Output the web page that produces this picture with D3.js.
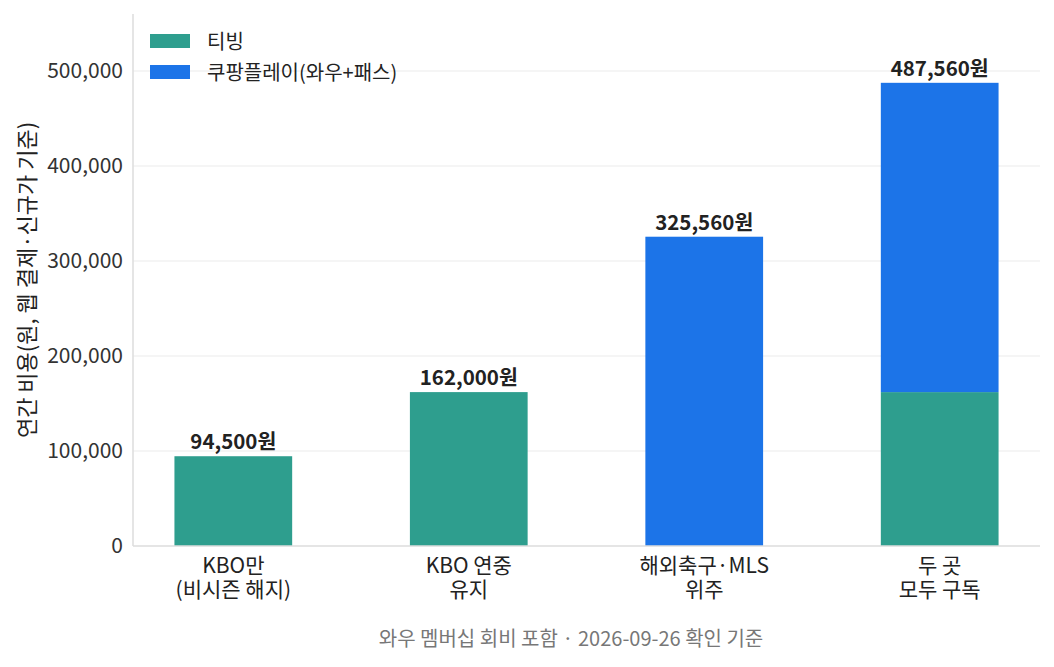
<!DOCTYPE html>
<html>
<head>
<meta charset="utf-8">
<script src="https://cdn.jsdelivr.net/npm/d3@7"></script>
<style>
  body { margin: 0; background: #fff; }
  text { font-family: "Noto Sans CJK KR", "Noto Sans", sans-serif; }
</style>
</head>
<body>
<script>
// data
const categories = ["KBO만\n(비시즌 해지)", "KBO 연중\n유지", "해외축구·MLS\n위주", "두 곳\n모두 구독"];
const tving = [94500, 162000, 0, 162000];
const coupang = [0, 0, 325560, 325560];
const seriesNames = ["티빙", "쿠팡플레이(와우+패스)"];
const seriesColors = ["#2e9e8e", "#1c74e8"];
const yTicks = [0, 100000, 200000, 300000, 400000, 500000];
const yLabel = "연간 비용(원, 웹 결제·신규가 기준)";
const caption = "와우 멤버십 회비 포함 · 2026-09-26 확인 기준";

const W = 1054, H = 667;
const margin = {top: 14, right: 14, bottom: 121, left: 133};
const width = W - margin.left - margin.right,
      height = H - margin.top - margin.bottom;

const svg = d3.select("body").append("svg")
    .attr("width", W).attr("height", H);
const g = svg.append("g")
    .attr("transform", "translate(" + margin.left + "," + margin.top + ")");

const x = d3.scaleBand().domain(categories).range([0, width])
    .paddingInner(0.5).paddingOuter(0.176);
const y = d3.scaleLinear().domain([0, 560000]).range([height, 0]);

// grid
g.selectAll("line.grid").data(yTicks.filter(d => d > 0)).enter()
    .append("line")
    .attr("x1", 0).attr("x2", width)
    .attr("y1", d => y(d)).attr("y2", d => y(d))
    .attr("stroke", "#ebebeb").attr("stroke-width", 1.2);

// stacks
const rows = categories.map((c, i) => ({cat: c, s0: tving[i], s1: coupang[i]}));
const stack = d3.stack().keys(["s0", "s1"])(rows);
g.selectAll("g.layer").data(stack).enter()
    .append("g")
    .attr("fill", (d, i) => seriesColors[i])
    .selectAll("rect").data(d => d.filter(p => p[1] > p[0])).enter()
    .append("rect")
    .attr("x", d => x(d.data.cat))
    .attr("width", x.bandwidth())
    .attr("y", d => y(d[1]))
    .attr("height", d => y(d[0]) - y(d[1]));

// totals
const fmt = d3.format(",");
g.selectAll("text.total").data(rows).enter()
    .append("text")
    .attr("x", d => x(d.cat) + x.bandwidth() / 2)
    .attr("y", d => y(d.s0 + d.s1) - 7)
    .attr("text-anchor", "middle")
    .attr("font-size", 20.5).attr("font-weight", "bold")
    .attr("fill", "#222")
    .text(d => fmt(d.s0 + d.s1) + "원");

// axes
const yAxis = d3.axisLeft(y).tickValues(yTicks).tickFormat(fmt).tickSize(0).tickPadding(10);
const ya = g.append("g").call(yAxis);
ya.select(".domain").remove();
ya.selectAll(".tick text").attr("font-size", 21).attr("fill", "#333")
    .style("font-family", '"Noto Sans CJK KR", sans-serif');

const xAxis = d3.axisBottom(x).tickSize(0).tickFormat("");
const xa = g.append("g").attr("transform", "translate(0," + height + ")").call(xAxis);
xa.select(".domain").remove();
xa.selectAll(".tick").each(function(d) {
    const tick = d3.select(this);
    d.split("\n").forEach((line, i) => {
        tick.append("text")
            .attr("text-anchor", "middle").attr("font-size", 21).attr("fill", "#222")
            .attr("x", 0).attr("y", 27 + i * 24).text(line);
    });
});

// spines
g.append("line").attr("x1", 0).attr("x2", 0).attr("y1", 0).attr("y2", height)
    .attr("stroke", "#ddd").attr("stroke-width", 1.5);
g.append("line").attr("x1", 0).attr("x2", width).attr("y1", height).attr("y2", height)
    .attr("stroke", "#ddd").attr("stroke-width", 1.5);

// y label
svg.append("text")
    .attr("transform", "translate(35," + (margin.top + height / 2) + ") rotate(-90)")
    .attr("text-anchor", "middle")
    .attr("font-size", 22).attr("fill", "#222")
    .text(yLabel);

// legend
const legend = g.append("g").attr("transform", "translate(17,20)");
seriesNames.forEach((name, i) => {
    const row = legend.append("g").attr("transform", "translate(0," + i * 31 + ")");
    row.append("rect").attr("width", 40).attr("height", 14).attr("fill", seriesColors[i]);
    row.append("text").attr("x", 57).attr("y", 15)
        .attr("font-size", 20).attr("fill", "#222").text(name);
});

// caption
svg.append("text")
    .attr("x", 571).attr("y", 646)
    .attr("text-anchor", "middle")
    .attr("font-size", 20).attr("fill", "#777")
    .text(caption);
</script>
</body>
</html>
